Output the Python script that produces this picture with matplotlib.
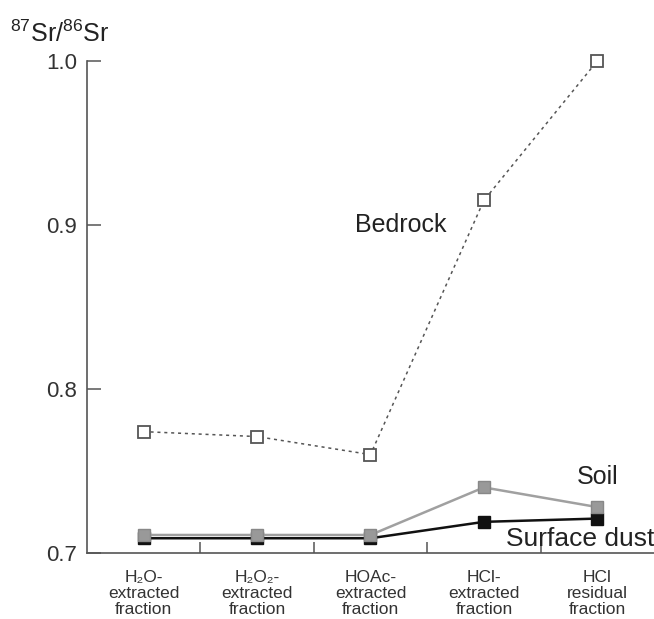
import matplotlib
matplotlib.use("Agg")
import matplotlib.pyplot as plt

plt.rcParams['font.family'] = ['Liberation Sans', 'DejaVu Sans']
plt.rcParams['mathtext.fontset'] = 'custom'
plt.rcParams['mathtext.rm'] = 'Liberation Sans'
plt.rcParams['mathtext.it'] = 'Liberation Sans'

# fractions (x categories)
categories = ['H\u2082O-\nextracted\nfraction',
              'H\u2082O\u2082-\nextracted\nfraction',
              'HOAc-\nextracted\nfraction',
              'HCl-\nextracted\nfraction',
              'HCl\nresidual\nfraction']

# 87Sr/86Sr values
bedrock = [0.774, 0.771, 0.760, 0.915, 1.000]
soil = [0.711, 0.711, 0.711, 0.740, 0.728]
surface_dust = [0.709, 0.709, 0.709, 0.719, 0.721]

y_ticks = [0.7, 0.8, 0.9, 1.0]

fig = plt.figure(figsize=(6.54, 6.19), dpi=100)
ax = fig.add_axes([0.133, 0.1066, 0.867, 0.7949])

x = list(range(len(categories)))

ax.plot(x, bedrock, linestyle=(0, (2, 2.5)), color='#555555', lw=1.1,
        marker='s', markersize=8.5, markerfacecolor='white',
        markeredgecolor='#555555', markeredgewidth=1.3, zorder=3,
        clip_on=False)
ax.plot(x, surface_dust, color='#111111', lw=1.8,
        marker='s', markersize=8.5, markerfacecolor='#111111',
        markeredgecolor='#111111', zorder=4, clip_on=False)
ax.plot(x, soil, color='#a0a0a0', lw=1.8,
        marker='s', markersize=8.5, markerfacecolor='#999999',
        markeredgecolor='#888888', zorder=5, clip_on=False)

ax.set_xlim(-0.5, len(categories) - 0.5)
ax.set_ylim(0.7, 1.0)

# boundary ticks between categories, labels at category centres
ax.set_xticks([i + 0.5 for i in x[:-1]])
ax.set_xticklabels([])
ax.set_xticks(x, minor=True)
ax.set_xticklabels(categories, minor=True, fontsize=12.5, color='#333333',
                   linespacing=1.1)
ax.tick_params(axis='x', which='major', direction='in', length=8,
               width=1.1, color='#555555')
ax.tick_params(axis='x', which='minor', length=0, pad=12)

ax.set_yticks(y_ticks)
ax.set_yticklabels(['%.1f' % v for v in y_ticks], fontsize=16, color='#333333')
ax.tick_params(axis='y', direction='in', length=10, width=1.1,
               color='#555555', pad=7)

for s in ['top', 'right']:
    ax.spines[s].set_visible(False)
for s in ['left', 'bottom']:
    ax.spines[s].set_color('#555555')
    ax.spines[s].set_linewidth(1.2)

ax.text(1.867, 0.8957, 'Bedrock', fontsize=18, color='#222222',
        ha='left', va='baseline')
ax.text(3.823, 0.742, 'Soil', fontsize=18, color='#222222',
        ha='left', va='baseline')
ax.text(3.195, 0.7043, 'Surface dust', fontsize=19, color='#222222',
        ha='left', va='baseline', clip_on=False, zorder=6)

fig.text(0.0153, 0.932, r'$^{87}$Sr/$^{86}$Sr', fontsize=18,
         color='#222222', ha='left', va='baseline')

fig.savefig('out.png', dpi=100)
